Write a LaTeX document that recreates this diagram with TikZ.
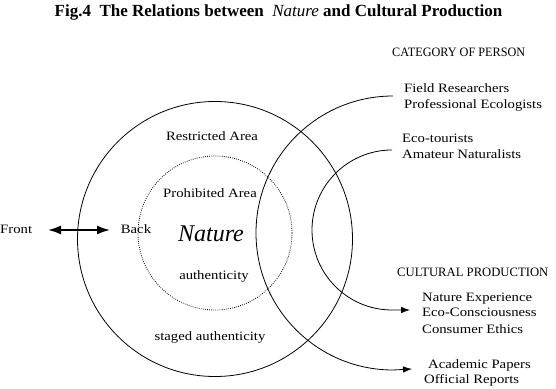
\documentclass[tikz,border=0pt]{standalone}
\usepackage{fontspec}
\usepackage{graphicx}
\setmainfont{Liberation Serif}
\newfontfamily\lblfont[FakeStretch=1.15]{Liberation Serif}
\usetikzlibrary{arrows.meta}
\begin{document}
\begin{tikzpicture}[x=1pt,y=1pt,
  lbl/.style={font=\lblfont\fontsize{12.8}{14}\selectfont, inner sep=0pt},
  titlefont/.style={font=\fontsize{17}{20}\selectfont\bfseries, inner sep=0pt},
  curve/.style={line width=0.8pt},
  dotcurve/.style={line width=0.8pt, dash pattern=on 0.8pt off 1.3pt},
  tip/.style={-{Latex[length=9pt,width=6.5pt]}},
  bigtip/.style={line width=1.7pt, {Latex[length=13pt,width=9pt]}-{Latex[length=13pt,width=9pt]}}
]
\useasboundingbox (0,0) rectangle (556,388);
% title
\node[titlefont, anchor=base] (title) at (278.5,371) {Fig.4\ \ The Relations between\ \ {\mdseries\itshape Nature} and Cultural Production};
% circles
\node[curve, draw, circle, minimum size=275pt, inner sep=0pt] (outer) at (215,149) {};
\node[dotcurve, draw, circle, minimum size=154pt, inner sep=0pt] (inner) at (215,155) {};
% arcs
\coordinate (bigtop) at (393,292);
\coordinate (bigtip) at (412,19);
\coordinate (smalltop) at (392,238);
\coordinate (smalltip) at (410,78);
\draw[curve, tip] (bigtop) arc[start angle=90, end angle=270, radius=137] -- (bigtip);
\draw[curve, tip] (smalltop) arc[start angle=90, end angle=270, radius=80] -- (smalltip);
% front / back
\coordinate (fbL) at (48,158);
\coordinate (fbR) at (110,158);
\draw[bigtip] (fbL) -- (fbR);
\node[lbl, anchor=base west] (front) at (0,154) {Front};
\node[lbl, anchor=base] (back) at (136,154) {Back};
% inner labels
\node[lbl, anchor=base] (restricted) at (212,247) {Restricted Area};
\node[lbl, anchor=base] (prohibited) at (210,190) {Prohibited Area};
\node[anchor=base, inner sep=0pt, font=\fontsize{24}{28}\selectfont\itshape] (nature) at (211,146) {Nature};
\node[lbl, anchor=base] (auth) at (214,108) {authenticity};
\node[lbl, anchor=base] (staged) at (210,48) {staged authenticity};
% right side labels
\node[lbl, anchor=base west] (category) at (392,331) {\scalebox{0.83}[1]{CATEGORY OF PERSON}};
\node[lbl, anchor=base west] (field) at (404,295) {Field Researchers};
\node[lbl, anchor=base west] (prof) at (404,279) {Professional Ecologists};
\node[lbl, anchor=base west] (eco) at (402,245) {Eco-tourists};
\node[lbl, anchor=base west] (amateur) at (402,229) {Amateur Naturalists};
\node[lbl, anchor=base west] (cultural) at (397,111) {\scalebox{0.86}[1]{CULTURAL PRODUCTION}};
\node[lbl, anchor=base west] (natexp) at (422,86) {Nature Experience};
\node[lbl, anchor=base west] (ecocon) at (422,71) {Eco-Consciousness};
\node[lbl, anchor=base west] (consumer) at (422,55) {Consumer Ethics};
\node[lbl, anchor=base west] (academic) at (428,20) {Academic Papers};
\node[lbl, anchor=base west] (official) at (424,5) {Official Reports};
\end{tikzpicture}
\end{document}
